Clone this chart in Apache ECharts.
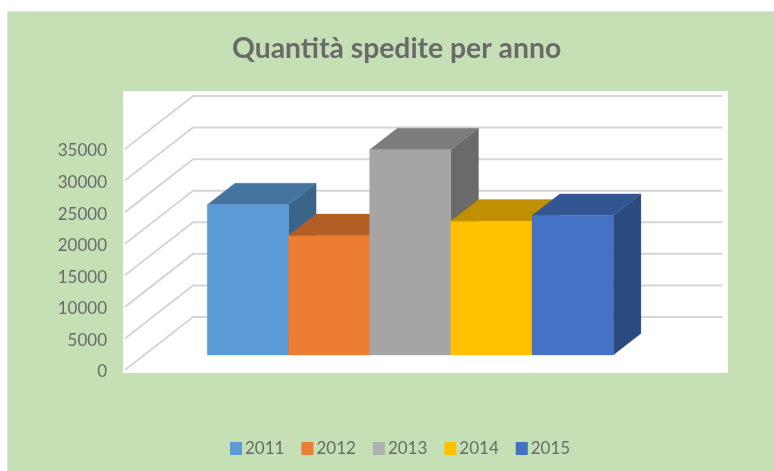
<!DOCTYPE html>
<html>
<head>
<meta charset="utf-8">
<style>html,body{margin:0;padding:0;background:#fff}#c{width:774px;height:471px;filter:blur(0.45px)}</style>
<script src="https://cdn.jsdelivr.net/npm/echarts@6/dist/echarts.min.js"></script>
</head>
<body>
<div id="c"></div>
<script>
const titleText = 'Quantità spedite per anno';
const categories = ['2011', '2012', '2013', '2014', '2015'];
const values = [23800, 18900, 32500, 21200, 22100];
const axisTicks = [0, 5000, 10000, 15000, 20000, 25000, 30000, 35000];
const frontColors = ['#5B9BD5', '#ED7D31', '#A5A5A5', '#FFC000', '#4472C4'];
const topColors = ['#44749F', '#B25E25', '#7C7C7C', '#C09000', '#335593'];
const sideColors = ['#3A6489', '#A05020', '#6A6A6A', '#A67D00', '#2B4A80'];
const legendColors = ['#5B9BD5', '#ED7D31', '#B0B0B0', '#FFC000', '#4472C4'];

const DEPTH_X = 68, DEPTH_Y = -53;   // full floor depth on screen
const BAR_Z0 = 0.283, BAR_Z1 = 0.69; // bar extent along the depth
const WALL_LEFT = 125, WALL_RIGHT = 722.5;
const FONT = 'Lato, "Open Sans", sans-serif';
const TEXT = '#6a6a6a';

function shift(p, z) { return [p[0] + DEPTH_X * z, p[1] + DEPTH_Y * z]; }

function renderBar(i) {
  return function (params, api) {
    const cat = api.value(0), v = api.value(1);
    const band = api.size([1, 0])[0];
    const t = api.coord([cat, v]), b = api.coord([cat, 0]);
    const L = t[0] - band / 2, R = t[0] + band / 2;
    const fTL = shift([L, t[1]], BAR_Z0), fTR = shift([R, t[1]], BAR_Z0);
    const fBL = shift([L, b[1]], BAR_Z0), fBR = shift([R, b[1]], BAR_Z0);
    const bTL = shift([L, t[1]], BAR_Z1), bTR = shift([R, t[1]], BAR_Z1);
    const bBR = shift([R, b[1]], BAR_Z1);
    const poly = (pts, fill) => ({ type: 'polygon', shape: { points: pts }, style: { fill: fill, stroke: fill, lineWidth: 0.3 } });
    return { type: 'group', children: [
      poly([fTR, bTR, bBR, fBR], sideColors[i]),
      poly([fTL, bTL, bTR, fTR], topColors[i]),
      poly([fTL, fTR, fBR, fBL], frontColors[i])
    ] };
  };
}

function renderWallLine(params, api) {
  const y = api.coord([0, api.value(1)])[1];
  const st = { stroke: '#d6d6d6', lineWidth: 2, fill: 'none' };
  return { type: 'polyline', shape: { points: [[WALL_LEFT, y], [WALL_LEFT + DEPTH_X, y + DEPTH_Y], [WALL_RIGHT, y + DEPTH_Y]] }, style: st };
}

const series = [{
  type: 'custom', name: 'griglia', renderItem: renderWallLine, silent: true, z: 1,
  encode: { x: 0, y: 1 }, data: axisTicks.map(t => [0, t])
}];
categories.forEach((c, i) => series.push({
  type: 'custom', name: c, renderItem: renderBar(i), z: 2 + i,
  itemStyle: { color: legendColors[i] },
  encode: { x: 0, y: 1 }, data: [[i, values[i]]]
}));

const chart = echarts.init(document.getElementById('c'));
chart.setOption({
  animation: false,
  backgroundColor: '#ffffff',
  graphic: [
    { type: 'rect', z: -10, shape: { x: 7.5, y: 11.5, width: 770, height: 465 }, style: { fill: '#C5E0B4', stroke: '#e2e2e2', lineWidth: 1 } },
    { type: 'rect', z: -9, shape: { x: 123, y: 91, width: 605, height: 282 }, style: { fill: '#ffffff' } }
  ],
  title: { text: titleText, left: 227, top: 30, textStyle: { fontFamily: FONT, fontSize: 28.3, fontWeight: 'bold', color: TEXT } },
  legend: {
    data: categories, left: 225, top: 435, icon: 'rect', itemWidth: 12, itemHeight: 13, itemGap: 17,
    textStyle: { fontFamily: FONT, fontSize: 17, color: TEXT, padding: [0, 0, 0, -2] }
  },
  grid: { left: 188, width: 406, top: 149, height: 221 },
  xAxis: { type: 'category', data: categories, show: false },
  yAxis: {
    type: 'value', min: 0, max: 35000, interval: 5000,
    axisLine: { show: false }, axisTick: { show: false }, splitLine: { show: false },
    axisLabel: { margin: 81, fontFamily: FONT, fontSize: 17, color: TEXT, verticalAlign: 'top', lineHeight: 4, formatter: v => String(v) }
  },
  series: series
});
</script>
</body>
</html>
